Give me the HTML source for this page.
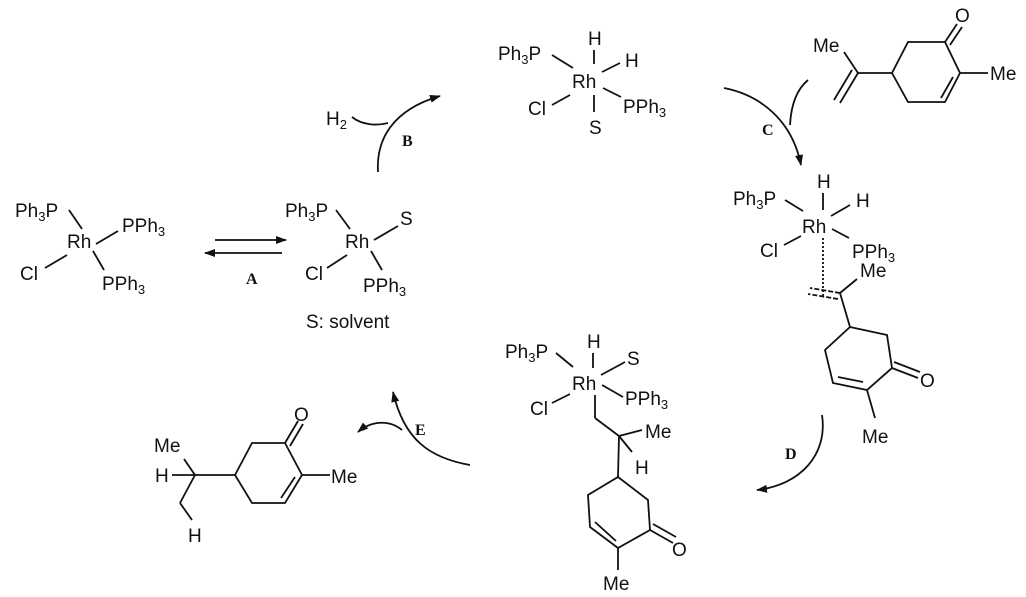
<!DOCTYPE html>
<html><head><meta charset="utf-8"><style>
html,body{margin:0;padding:0;background:#fff;}
svg{display:block;}
text{font-family:"Liberation Sans",Arial,sans-serif;font-size:19px;fill:#111;}
.l{font-family:"Liberation Serif",serif;font-weight:bold;font-size:16px;}
.s{font-size:13px;}
</style></head><body>
<svg width="1026" height="597" viewBox="0 0 1026 597" xmlns="http://www.w3.org/2000/svg">
<defs>
<marker id="ah" markerWidth="11" markerHeight="8" refX="10" refY="4" orient="auto" markerUnits="userSpaceOnUse"><path d="M0,0 L11,4 L0,8 z" fill="#111"/></marker>
</defs>
<g stroke="#111" stroke-width="1.8" fill="none">
<line x1="69" y1="210" x2="82" y2="229"/><line x1="96" y1="244" x2="118" y2="231"/>
<line x1="45" y1="268" x2="67" y2="255"/><line x1="93" y1="251" x2="104" y2="270"/>
<line x1="215" y1="240" x2="286" y2="240" marker-end="url(#ah)"/>
<line x1="282" y1="253" x2="205" y2="253" marker-end="url(#ah)"/>
<line x1="336" y1="210" x2="350" y2="229"/><line x1="374" y1="240" x2="398" y2="226"/>
<line x1="327" y1="268" x2="347" y2="255"/><line x1="371" y1="251" x2="382" y2="270"/>
<line x1="552" y1="55" x2="573" y2="68"/><line x1="594" y1="50" x2="594" y2="64"/>
<line x1="602" y1="72" x2="620" y2="63"/><line x1="603" y1="88" x2="621" y2="97"/>
<line x1="552" y1="105" x2="570" y2="95"/><line x1="594" y1="95" x2="594" y2="112"/>
<path d="M378,172 C376,140 392,110 440,96" marker-end="url(#ah)"/>
<path d="M352,117 C362,125 376,126 388,123"/>
<path d="M908,42 L945,42 L960,73 L945,102 L908,102 L892,73 Z"/>
<line x1="953" y1="77" x2="941" y2="98"/>
<line x1="945" y1="42" x2="957" y2="24"/><line x1="950" y1="45" x2="962" y2="27"/>
<line x1="960" y1="73" x2="988" y2="73"/>
<line x1="892" y1="73" x2="858" y2="73"/><line x1="858" y1="73" x2="844" y2="52"/>
<line x1="858" y1="73" x2="840" y2="103"/><line x1="852" y1="70" x2="834" y2="100"/>
<path d="M724,88 C760,95 792,120 801,165" marker-end="url(#ah)"/>
<path d="M808,80 C796,90 791,106 790,125"/>
<line x1="785" y1="200" x2="803" y2="211"/><line x1="823" y1="193" x2="823" y2="210"/>
<line x1="831" y1="216" x2="850" y2="205"/><line x1="832" y1="229" x2="849" y2="238"/>
<line x1="784" y1="245" x2="801" y2="236"/>
<line x1="823" y1="238" x2="823" y2="296" stroke-dasharray="2,2"/>
<line x1="840" y1="293" x2="810" y2="288" stroke-dasharray="5,2"/>
<line x1="838" y1="299" x2="808" y2="294" stroke-dasharray="5,2"/>
<line x1="840" y1="293" x2="857" y2="279"/><line x1="840" y1="293" x2="850" y2="327"/>
<path d="M850,327 L887,335 L892,368 L867,390 L833,383 L825,350 Z"/>
<line x1="838" y1="377" x2="863" y2="382"/>
<line x1="892" y1="368" x2="918" y2="378"/><line x1="894" y1="362" x2="920" y2="372"/>
<line x1="867" y1="390" x2="875" y2="418"/>
<path d="M822,415 C828,455 800,485 757,490" marker-end="url(#ah)"/>
<line x1="556" y1="353" x2="573" y2="367"/><line x1="593" y1="353" x2="593" y2="368"/>
<line x1="601" y1="375" x2="625" y2="362"/><line x1="602" y1="385" x2="623" y2="397"/>
<line x1="552" y1="403" x2="570" y2="394"/>
<line x1="595" y1="395" x2="595" y2="418"/><line x1="595" y1="418" x2="619" y2="436"/>
<line x1="619" y1="436" x2="642" y2="430"/><line x1="619" y1="436" x2="632" y2="452"/>
<line x1="619" y1="436" x2="618" y2="477"/>
<path d="M618,477 L648,500 L650,530 L618,548 L590,527 L588,495 Z"/>
<line x1="595" y1="522" x2="616" y2="541"/>
<line x1="650" y1="530" x2="673" y2="543"/><line x1="653" y1="524" x2="676" y2="537"/>
<line x1="618" y1="548" x2="618" y2="570"/>
<path d="M470,465 C430,458 404,440 393,392" marker-end="url(#ah)"/>
<path d="M402,430 C390,420 372,420 358,432" marker-end="url(#ah)"/>
<line x1="172" y1="475" x2="195" y2="475"/><line x1="195" y1="475" x2="184" y2="459"/>
<line x1="195" y1="475" x2="235" y2="475"/>
<path d="M235,475 L252,443 L285,443 L302,475 L285,503 L252,503 Z"/>
<line x1="295" y1="477" x2="281" y2="498"/>
<line x1="285" y1="443" x2="298" y2="421"/><line x1="290" y1="446" x2="303" y2="424"/>
<line x1="302" y1="475" x2="330" y2="475"/>
<line x1="195" y1="475" x2="180" y2="503"/><line x1="180" y1="503" x2="192" y2="520"/>
</g>
<text x="15" y="217">Ph<tspan class="s" dy="4">3</tspan><tspan dy="-4">P</tspan></text>
<text x="67" y="248">Rh</text>
<text x="122" y="232">PPh<tspan class="s" dy="4">3</tspan></text>
<text x="20" y="280">Cl</text>
<text x="102" y="290">PPh<tspan class="s" dy="4">3</tspan></text>
<text class="l" x="246" y="284">A</text>

<text x="285" y="217">Ph<tspan class="s" dy="4">3</tspan><tspan dy="-4">P</tspan></text>
<text x="345" y="248">Rh</text>
<text x="400" y="225">S</text>
<text x="305" y="280">Cl</text>
<text x="363" y="292">PPh<tspan class="s" dy="4">3</tspan></text>
<text x="306" y="328">S: solvent</text>

<text x="326" y="125">H<tspan class="s" dy="4">2</tspan></text>
<text class="l" x="402" y="146">B</text>
<text x="498" y="60">Ph<tspan class="s" dy="4">3</tspan><tspan dy="-4">P</tspan></text>
<text x="588" y="45">H</text>
<text x="625" y="67">H</text>
<text x="572" y="88">Rh</text>
<text x="528" y="115">Cl</text>
<text x="623" y="113">PPh<tspan class="s" dy="4">3</tspan></text>
<text x="589" y="134">S</text>

<text x="813" y="52">Me</text>
<text x="955" y="22">O</text>
<text x="990" y="80">Me</text>
<text class="l" x="762" y="135">C</text>

<text x="733" y="205">Ph<tspan class="s" dy="4">3</tspan><tspan dy="-4">P</tspan></text>
<text x="817" y="188">H</text>
<text x="856" y="207">H</text>
<text x="802" y="233">Rh</text>
<text x="760" y="257">Cl</text>
<text x="852" y="258">PPh<tspan class="s" dy="4">3</tspan></text>
<text x="860" y="277">Me</text>
<text x="920" y="387">O</text>
<text x="862" y="443">Me</text>
<text class="l" x="785" y="459">D</text>

<text x="505" y="358">Ph<tspan class="s" dy="4">3</tspan><tspan dy="-4">P</tspan></text>
<text x="587" y="348">H</text>
<text x="627" y="365">S</text>
<text x="572" y="390">Rh</text>
<text x="530" y="415">Cl</text>
<text x="625" y="405">PPh<tspan class="s" dy="4">3</tspan></text>
<text x="645" y="438">Me</text>
<text x="635" y="474">H</text>
<text x="672" y="556">O</text>
<text x="603" y="590">Me</text>
<text class="l" x="415" y="435">E</text>

<text x="154" y="452">Me</text>
<text x="155" y="482">H</text>
<text x="294" y="421">O</text>
<text x="331" y="483">Me</text>
<text x="188" y="542">H</text>
</svg>
</body></html>
